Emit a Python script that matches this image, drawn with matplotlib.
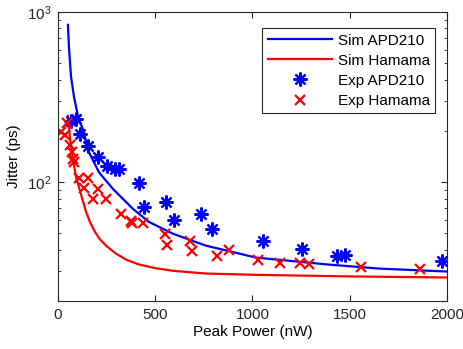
import matplotlib

matplotlib.use("Agg")
import matplotlib.pyplot as plt

plt.rcParams["font.family"] = ["Liberation Sans", "DejaVu Sans"]
plt.rcParams["font.size"] = 11

# simulated curves (nW, ps)
sim_apd_p = [51, 57, 67, 82, 103, 128, 159, 211, 283, 386, 468, 591, 761, 1018, 1398, 1655, 2000]
sim_apd_j = [839, 600, 417, 318, 243, 204, 150, 114, 91, 69.5, 58.3, 49.7, 42.3, 36, 32.7, 31, 29.8]

sim_ham_p = [51, 62, 77, 92, 118, 144, 165, 190, 216, 250, 298, 350, 416, 500, 591, 761,
             1018, 1500, 2000]
sim_ham_j = [245, 180, 136, 108, 85, 67, 58, 51, 46, 42, 38, 35, 32.8, 31.2, 30.1, 29,
             28.5, 27.9, 27.5]

# measured points
exp_apd_p = [67, 92, 113, 154, 206, 252, 293, 314, 416, 442, 555, 596, 735, 792,
             1054, 1254, 1434, 1476, 1974]
exp_apd_j = [227, 234, 191, 163, 140, 124, 119, 119, 98.6, 71.5, 76.4, 60, 65, 53.1,
             45.2, 40.5, 36.9, 37.4, 34.5]

exp_ham_p = [45, 15, 38, 62, 72, 77, 82, 108, 154, 134, 206, 180, 247, 324, 375, 380,
             437, 550, 560, 679, 689, 817, 879, 1030, 1141, 1244, 1290, 1558, 1861]
exp_ham_j = [223, 196, 188, 165, 150, 136, 131, 105, 105, 92, 91, 79.6, 79.6, 65, 59.2,
             57.6, 57.6, 49.7, 42.8, 45.2, 39.4, 36.9, 40, 34.8, 33.6, 33.6, 33.1, 31.8, 31]

fig = plt.figure(figsize=(4.64, 3.49), dpi=100)
ax = fig.add_axes([0.125, 0.1375, 0.838, 0.8285])

ax.plot(sim_apd_p, sim_apd_j, color="#0000ff", lw=1.6, label="Sim APD210")
ax.plot(sim_ham_p, sim_ham_j, color="#ff0000", lw=1.6, label="Sim Hamama")
ax.plot(exp_apd_p, exp_apd_j, ls="none", marker=(8, 2, 0), ms=10, mew=1.6,
        color="#0000ff", label="Exp APD210")
ax.plot(exp_ham_p, exp_ham_j, ls="none", marker="x", ms=7, mew=1.6,
        color="#ff0000", label="Exp Hamama")

ax.set_yscale("log")
ax.set_xlim(0, 2000)
ax.set_ylim(20, 1000)
ax.set_xticks([0, 500, 1000, 1500, 2000])
ax.set_xlabel("Peak Power (nW)", labelpad=2)
ax.set_ylabel("Jitter (ps)", labelpad=4)

for s in ax.spines.values():
    s.set_color("#262626")
    s.set_linewidth(0.8)
ax.tick_params(which="both", direction="in", top=True, right=True, colors="#262626")
ax.tick_params(which="major", length=4, pad=5)
ax.tick_params(which="minor", length=2.5)

leg = ax.legend(loc="upper right", bbox_to_anchor=(0.99, 0.97), fancybox=False,
                edgecolor="#262626", framealpha=1, handlelength=4.2,
                handletextpad=0.4, labelspacing=0.4, borderpad=0.35)
leg.get_frame().set_linewidth(0.8)

fig.savefig("out.png", dpi=100)
